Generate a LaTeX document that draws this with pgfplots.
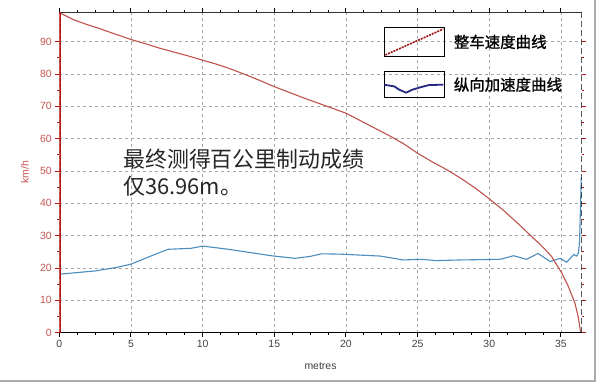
\documentclass[border=0pt]{standalone}
\usepackage{fontspec}
\setmainfont{Liberation Sans}
\newfontfamily\cjk{Noto Sans CJK SC}
\newfontfamily\cjkb[FakeBold=1.2]{Noto Sans CJK SC}
\usepackage{pgfplots}
\pgfplotsset{compat=1.18}
\definecolor{spd}{RGB}{190,82,76}
\definecolor{axred}{RGB}{185,20,20}
\definecolor{tickred}{RGB}{195,85,80}
\definecolor{acc}{RGB}{75,140,190}
\definecolor{navyl}{RGB}{35,40,130}
\definecolor{frame}{RGB}{170,170,170}
\begin{document}
\begin{tikzpicture}
\useasboundingbox (-59.3bp,-51.3bp) rectangle (540.7bp,332.7bp);
\begin{axis}[
  at={(0,0)}, anchor=south west,
  scale only axis, width=522.4bp, height=320.4bp,
  xmin=0, xmax=36.45, ymin=0, ymax=99.1,
  axis line style={draw=none},
  xtick={0,5,...,35}, ytick={0,10,...,90},
  minor x tick num=3, minor y tick num=1,
  tick align=outside,
  major tick length=4bp, minor tick length=2.5bp,
  xtick style={black, line width=1bp},
  ytick style={axred, line width=1bp},
  grid=major,
  major grid style={gray!70, dash pattern=on 3bp off 3bp, line width=0.8bp},
  /pgf/number format/assume math mode=true,
  xticklabel style={font=\fontsize{10.5}{12}\selectfont, text=black!75},
  yticklabel style={font=\fontsize{10.5}{12}\selectfont, text=tickred},
  xlabel={metres},
  ylabel={km/h},
  xlabel style={at={(axis description cs:0.5,-0.106)}, anchor=center, font=\fontsize{10.5}{12}\selectfont, text=black!75},
  ylabel style={at={(axis description cs:-0.066,0.5)}, anchor=center, font=\fontsize{10.5}{12}\selectfont, text=tickred},
  legend style={draw=none, fill=none, at={(axis description cs:0.62,0.955)}, anchor=north west,
    row sep=14bp, column sep=9bp, inner sep=0pt, nodes={inner sep=0pt},
    font=\cjkb\fontsize{15.5}{18}\selectfont},
  legend cell align=left,
]
\addlegendimage{legend image code/.code={
  \draw[black, line width=1.2bp] (0bp,-14.5bp) rectangle (60bp,14.5bp);
  \draw[axred!85!black, line width=1.6bp, dash pattern=on 2bp off 1bp] (1bp,-13bp) -- (59bp,13bp);}}
\addlegendentry{整车速度曲线}
\addlegendimage{legend image code/.code={
  \draw[black, line width=1.2bp] (0bp,-13bp) rectangle (60bp,13bp);
  \draw[navyl, line width=1.8bp] (0bp,0bp) -- (10bp,-1.7bp) -- (15bp,-5bp) -- (22bp,-8bp) -- (28bp,-5bp) -- (37bp,-2.3bp) -- (45bp,-0.3bp) -- (59bp,0bp);}}
\addlegendentry{纵向加速度曲线}

\addplot[acc, line width=1.1bp, forget plot] coordinates {
(0,18.1) (1,18.5) (2.5,19.1) (4,20.2) (5,21.2) (6,23.0) (7,24.8) (7.6,25.8)
(9.2,26.1) (10,26.8) (11.8,25.8) (13.3,24.8) (14.8,23.8) (16.45,23.0) (17.5,23.6)
(18.3,24.4) (19.6,24.3) (22.4,23.7) (24.0,22.5) (25.2,22.7) (26.3,22.3) (28,22.5)
(30.75,22.7) (31.7,23.8) (32.6,22.7) (33.4,24.5) (34.25,22.0) (34.94,23.0) (35.4,21.8)
(35.9,24.2) (36.1,23.7) (36.22,24.7) (36.3,28) (36.36,38) (36.42,48)
};
\addplot[spd, line width=1.1bp, forget plot] coordinates {
(0,99.0) (1,96.8) (2,95.2) (2.72,94.2) (4,92.2) (5,90.7) (6,89.4) (7,88.0) (8,86.8)
(9,85.6) (10,84.3) (11,83.0) (12,81.5) (13,79.8) (14,78.0) (15,76.1) (16,74.4)
(17,72.7) (18,71.1) (19,69.5) (20,67.9) (21,65.6) (22,63.3) (23,61.0) (24,58.5)
(25,55.5) (26,52.9) (27,50.5) (28,47.8) (29,44.8) (30,41.4) (31,37.8) (32,33.8)
(32.85,30.2) (33.5,27.5) (34,25.3) (34.36,23.5) (34.8,20.3) (35.0,18.9) (35.5,14.5)
(35.98,9.1) (36.2,5) (36.33,1.5) (36.38,0)
};
\draw[black!80, line width=1.3bp] (rel axis cs:0,1) -- (rel axis cs:1,1);
\draw[black, line width=2bp] (rel axis cs:0,0) -- (rel axis cs:1,0);
\draw[black, line width=1.8bp, dash pattern=on 6bp off 3bp] (rel axis cs:1,0) -- (rel axis cs:1,1);
\draw[axred, line width=2.5bp] (rel axis cs:0,0) -- (rel axis cs:0,1);
\node[anchor=north west, inner sep=0pt, align=left, text=black!85,
  font=\cjk\fontsize{22}{28}\selectfont] at (axis cs:4.45,57) {最终测得百公里制动成绩\\仅36.96m。};
\end{axis}
\draw[frame, line width=1.5bp] (-59.3bp,-48.3bp) -- (535.7bp,-48.3bp) -- (535.7bp,332.7bp);
\end{tikzpicture}%
\end{document}
